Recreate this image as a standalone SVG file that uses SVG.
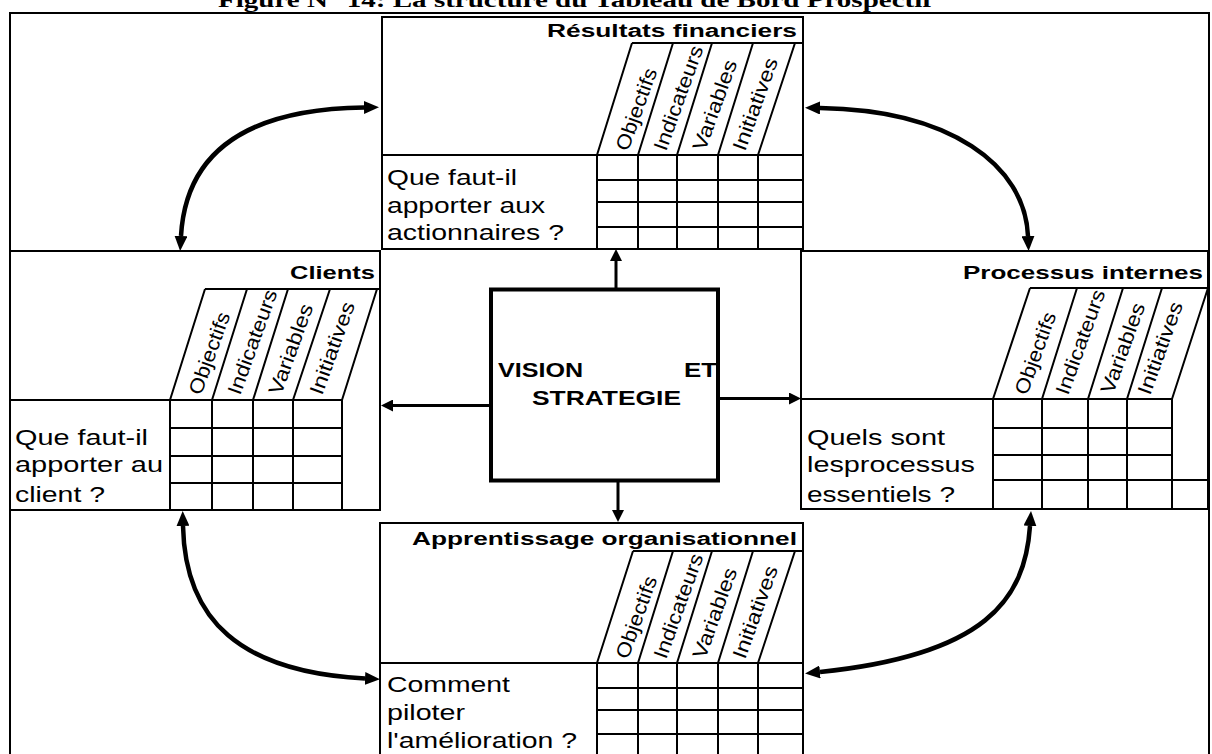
<svg xmlns="http://www.w3.org/2000/svg" width="1212" height="754" viewBox="0 0 1212 754">
  <style>
    .box { fill: #fff; stroke: #000; stroke-width: 2; }
    .grid { fill: none; stroke: #000; stroke-width: 2; }
    .q { font-family: "Liberation Sans", Arial, sans-serif; font-size: 22px; fill: #000; }
    .hd { font-family: "Liberation Sans", Arial, sans-serif; font-size: 18px; font-weight: bold; text-anchor: end; fill: #000; }
    .col { font-family: "Liberation Sans", Arial, sans-serif; font-size: 20px; fill: #000; }
    .vision { font-family: "Liberation Sans", Arial, sans-serif; font-size: 20px; font-weight: bold; fill: #000; }
    .title { font-family: "Liberation Serif", "Times New Roman", serif; font-size: 22px; font-weight: bold; fill: #000; }
    .curve { fill: none; stroke: #000; stroke-width: 4.5; marker-start: url(#head); marker-end: url(#head); }
    .link { fill: none; stroke: #000; stroke-width: 3; marker-end: url(#tip); }
  </style>
  <defs>
    <marker id="head" markerUnits="userSpaceOnUse" markerWidth="16" markerHeight="13" refX="0" refY="6.5" orient="auto-start-reverse">
      <path d="M0,0 L15,6.5 L0,13 z" fill="#000"/>
    </marker>
    <marker id="tip" markerUnits="userSpaceOnUse" markerWidth="13" markerHeight="12" refX="0" refY="6" orient="auto">
      <path d="M0,0 L12,6 L0,12 z" fill="#000"/>
    </marker>
  </defs>

  <rect width="1212" height="754" fill="#fff"/>

  <!-- caption, clipped by the top of the page -->
  <text class="title" x="218" y="7" textLength="714" lengthAdjust="spacingAndGlyphs">Figure N° 14: La structure du Tableau de Bord Prospectif</text>

  <!-- outer frame -->
  <path d="M10,754 V13 H1209 V754" fill="none" stroke="#000" stroke-width="2"/>

  <!-- Résultats financiers -->
  <g id="resultats-financiers">
    <rect class="box" x="382" y="17" width="421" height="232"/>
    <text class="hd" x="797" y="37" textLength="250" lengthAdjust="spacingAndGlyphs">Résultats financiers</text>
    <path class="grid" d="M632,43 H803 M597,155 L632,43 M638,155 L673,43 M677,155 L712,43 M718,155 L753,43 M758,155 L795,43"/>
    <path class="grid" d="M382,155 H803 M597,180 H803 M597,202 H803 M597,227 H803 M597,155 V249 M638,155 V249 M677,155 V249 M718,155 V249 M758,155 V249"/>
    <text class="col" transform="translate(628,152) rotate(-70)" textLength="86" lengthAdjust="spacingAndGlyphs">Objectifs</text>
    <text class="col" transform="translate(666,152) rotate(-70)" textLength="110" lengthAdjust="spacingAndGlyphs">Indicateurs</text>
    <text class="col" transform="translate(705,152) rotate(-70)" textLength="95" lengthAdjust="spacingAndGlyphs">Variables</text>
    <text class="col" transform="translate(745,152) rotate(-70)" textLength="97" lengthAdjust="spacingAndGlyphs">Initiatives</text>
    <text class="q" x="387" y="185" textLength="130" lengthAdjust="spacingAndGlyphs">Que faut-il</text>
    <text class="q" x="387" y="213" textLength="158" lengthAdjust="spacingAndGlyphs">apporter aux</text>
    <text class="q" x="387" y="240" textLength="177" lengthAdjust="spacingAndGlyphs">actionnaires ?</text>
  </g>

  <!-- Clients -->
  <g id="clients">
    <rect class="box" x="10" y="251" width="370" height="259"/>
    <text class="hd" x="375" y="279" textLength="85" lengthAdjust="spacingAndGlyphs">Clients</text>
    <path class="grid" d="M205,289 H380 M170,400 L205,289 M212,400 L247,289 M253,400 L288,289 M293,400 L330,289 M342,400 L377,289"/>
    <path class="grid" d="M10,400 H342 M170,428 H342 M170,456 H342 M170,483 H342 M170,400 V510 M212,400 V510 M253,400 V510 M293,400 V510 M342,400 V510"/>
    <text class="col" transform="translate(201,396) rotate(-70)" textLength="86" lengthAdjust="spacingAndGlyphs">Objectifs</text>
    <text class="col" transform="translate(240,396) rotate(-70)" textLength="110" lengthAdjust="spacingAndGlyphs">Indicateurs</text>
    <text class="col" transform="translate(281,396) rotate(-70)" textLength="95" lengthAdjust="spacingAndGlyphs">Variables</text>
    <text class="col" transform="translate(322,396) rotate(-70)" textLength="97" lengthAdjust="spacingAndGlyphs">Initiatives</text>
    <text class="q" x="15" y="445" textLength="133" lengthAdjust="spacingAndGlyphs">Que faut-il</text>
    <text class="q" x="15" y="472" textLength="148" lengthAdjust="spacingAndGlyphs">apporter au</text>
    <text class="q" x="15" y="502" textLength="90" lengthAdjust="spacingAndGlyphs">client ?</text>
  </g>

  <!-- Processus internes -->
  <g id="processus-internes">
    <rect class="box" x="801" y="251" width="407" height="258"/>
    <text class="hd" x="1203" y="279" textLength="240" lengthAdjust="spacingAndGlyphs">Processus internes</text>
    <path class="grid" d="M1030,288 H1208 M993,399 L1030,288 M1042,399 L1077,288 M1088,399 L1123,288 M1127,399 L1162,288 M1172,399 L1208,288"/>
    <path class="grid" d="M801,399 H1172 M993,428 H1172 M993,455 H1172 M993,480 H1208 M993,399 V509 M1042,399 V509 M1088,399 V509 M1127,399 V509 M1172,399 V509"/>
    <text class="col" transform="translate(1027,396) rotate(-70)" textLength="86" lengthAdjust="spacingAndGlyphs">Objectifs</text>
    <text class="col" transform="translate(1068,396) rotate(-70)" textLength="110" lengthAdjust="spacingAndGlyphs">Indicateurs</text>
    <text class="col" transform="translate(1113,395) rotate(-70)" textLength="95" lengthAdjust="spacingAndGlyphs">Variables</text>
    <text class="col" transform="translate(1150,396) rotate(-70)" textLength="97" lengthAdjust="spacingAndGlyphs">Initiatives</text>
    <text class="q" x="807" y="445" textLength="138" lengthAdjust="spacingAndGlyphs">Quels sont</text>
    <text class="q" x="807" y="472" textLength="168" lengthAdjust="spacingAndGlyphs">lesprocessus</text>
    <text class="q" x="807" y="502" textLength="148" lengthAdjust="spacingAndGlyphs">essentiels ?</text>
  </g>

  <!-- Apprentissage organisationnel -->
  <g id="apprentissage-organisationnel">
    <rect class="box" x="380" y="523" width="423" height="240"/>
    <text class="hd" x="797" y="545" textLength="385" lengthAdjust="spacingAndGlyphs">Apprentissage organisationnel</text>
    <path class="grid" d="M633,551 H803 M597,663 L633,551 M638,663 L673,551 M677,663 L712,551 M718,663 L753,551 M758,663 L795,551"/>
    <path class="grid" d="M380,663 H803 M597,688 H803 M597,710 H803 M597,734 H803 M597,663 V760 M638,663 V760 M677,663 V760 M718,663 V760 M758,663 V760"/>
    <text class="col" transform="translate(628,660) rotate(-70)" textLength="86" lengthAdjust="spacingAndGlyphs">Objectifs</text>
    <text class="col" transform="translate(666,660) rotate(-70)" textLength="110" lengthAdjust="spacingAndGlyphs">Indicateurs</text>
    <text class="col" transform="translate(705,660) rotate(-70)" textLength="95" lengthAdjust="spacingAndGlyphs">Variables</text>
    <text class="col" transform="translate(745,660) rotate(-70)" textLength="97" lengthAdjust="spacingAndGlyphs">Initiatives</text>
    <text class="q" x="387" y="692" textLength="123" lengthAdjust="spacingAndGlyphs">Comment</text>
    <text class="q" x="387" y="720" textLength="78" lengthAdjust="spacingAndGlyphs">piloter</text>
    <text class="q" x="387" y="748" textLength="190" lengthAdjust="spacingAndGlyphs">l'amélioration ?</text>
  </g>

  <!-- Vision et stratégie -->
  <g id="vision-strategie">
    <rect x="491" y="289.5" width="227" height="191" fill="#fff" stroke="#000" stroke-width="4"/>
    <text class="vision" x="498" y="377" textLength="85" lengthAdjust="spacingAndGlyphs">VISION</text>
    <text class="vision" x="684" y="377" textLength="33" lengthAdjust="spacingAndGlyphs">ET</text>
    <text class="vision" x="532" y="405" textLength="149" lengthAdjust="spacingAndGlyphs">STRATEGIE</text>
  </g>

  <!-- connectors -->
  <g id="connectors">
    <path class="link" d="M616,289 V261"/>
    <path class="link" d="M489,405.5 H393"/>
    <path class="link" d="M720,398.5 H789"/>
    <path class="link" d="M618,482 V510"/>
    <path class="curve" d="M364,107.5 C250,109 186,150 181,236"/>
    <path class="curve" d="M820,108 C950,110 1025,165 1028,236"/>
    <path class="curve" d="M183,526 C185,620 240,672 365,678.5"/>
    <path class="curve" d="M1030,526 C1025,600 985,655 820,672"/>
  </g>
</svg>
